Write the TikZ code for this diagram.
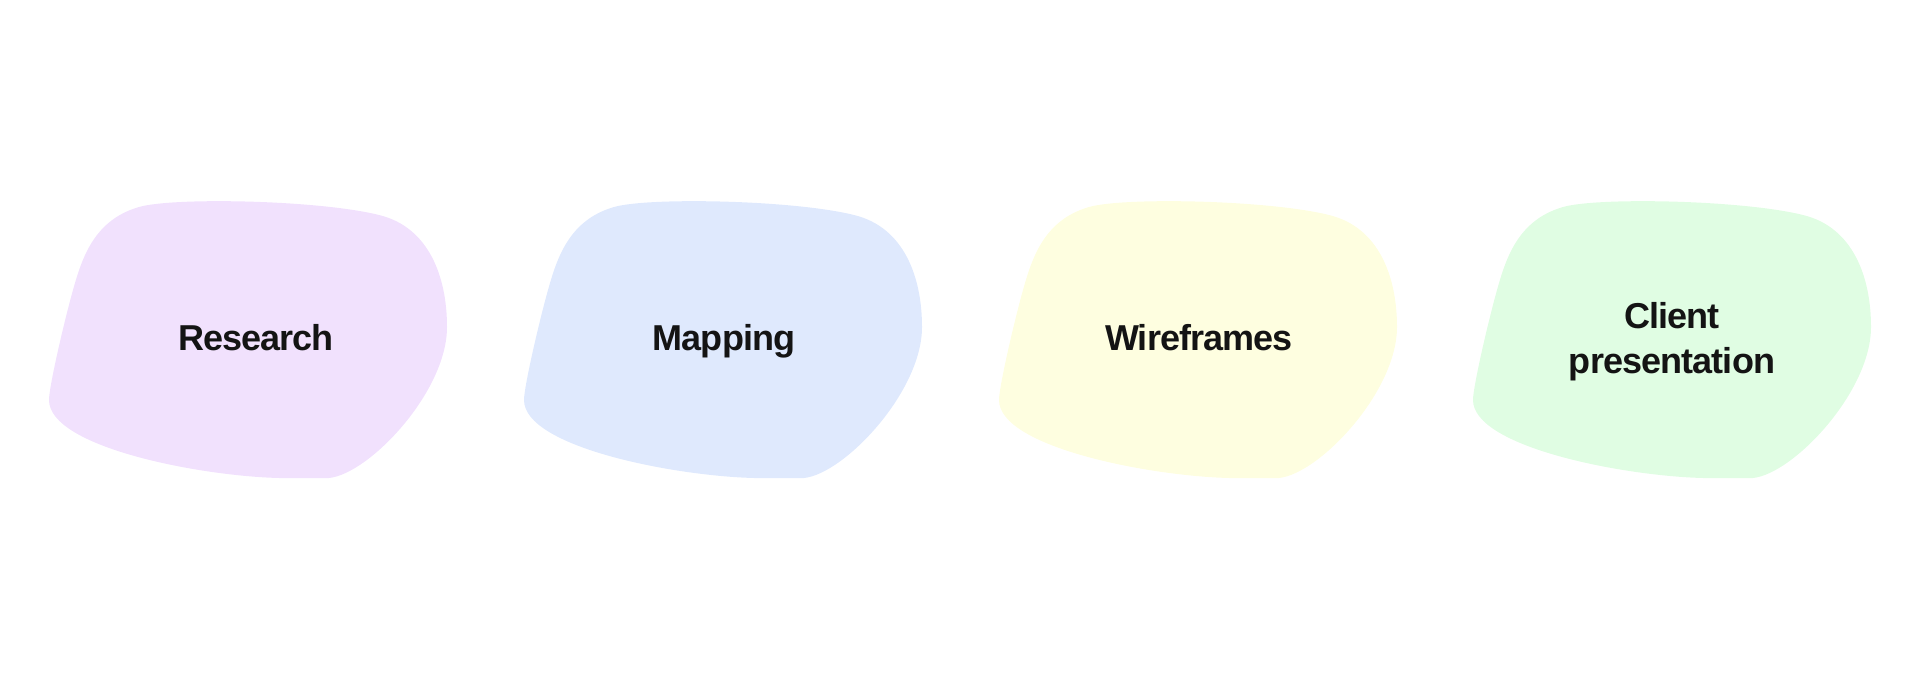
\documentclass[tikz,border=0pt]{standalone}
\usepackage{fontspec}
\newfontfamily\blobfont{Liberation Sans}[LetterSpace=-2.5]
\usepackage{tikz}

\definecolor{lilac}{HTML}{F1E1FD}
\definecolor{sky}{HTML}{DFE9FD}
\definecolor{lemon}{HTML}{FEFEE0}
\definecolor{mint}{HTML}{E0FDE3}
\definecolor{ink}{HTML}{141414}

\begin{document}
\begin{tikzpicture}[
  x=1pt, y=-1pt,
  stage/.style={font=\blobfont\bfseries\fontsize{36}{45}\selectfont,
                text=ink, align=center, anchor=base, inner sep=0pt}
]
\useasboundingbox (0,0) rectangle (1921,680);
% blobs, one shape shifted along
\foreach \dx/\col in {49/lilac, 524/sky, 999/lemon, 1473/mint} {
  \fill[\col, shift={(\dx,202)}]
    (0,198) .. controls (0,185) and (15,120) .. (24,88)
    .. controls (33,56) and (45,18) .. (90,5)
    .. controls (125,-5) and (270,-2) .. (330,13)
    .. controls (380,25) and (398,75) .. (398,125)
    .. controls (398,190) and (320,272) .. (280,276)
    -- (230,276)
    .. controls (150,274) and (0,245) .. (0,198) -- cycle;
}
\node[stage] (research)   at (256,350)  {Research};
\node[stage] (mapping)    at (724,350)  {Mapping};
\node[stage] (wireframes) at (1199,350) {Wireframes};
\node[stage] (client)     at (1672,373) {Client\\presentation};
\end{tikzpicture}
\end{document}
